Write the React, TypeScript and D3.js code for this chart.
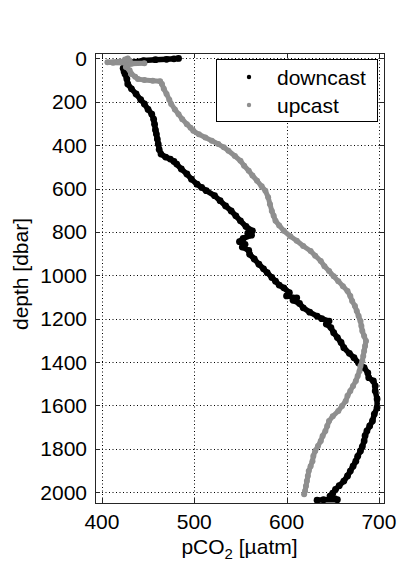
import React, { useRef, useEffect } from 'react';
import * as d3 from 'd3';

// downcast profile (depth in dbar, pCO2 in µatm)
const downDepth = [
  0, 2, 4, 6, 10, 18, 30, 45, 60, 72, 95, 118, 140, 164, 190, 210, 235, 257, 280, 303,
  330, 349, 372, 395, 420, 441, 455, 464, 475, 487, 510, 533, 557, 580, 595, 610, 633, 656,
  680, 703, 726, 749, 775, 795, 806, 815, 830, 845, 857, 870, 885, 903, 925, 949, 970, 988,
  1010, 1027, 1045, 1058, 1080, 1095, 1104, 1115, 1130, 1150, 1170, 1188, 1200, 1211, 1225,
  1241, 1265, 1287, 1310, 1334, 1360, 1380, 1405, 1426, 1450, 1472, 1487, 1510, 1533, 1570,
  1610, 1640, 1672, 1695, 1718, 1740, 1764, 1790, 1810, 1835, 1857, 1880, 1903, 1925, 1949,
  1970, 1987, 2005, 2018, 2030, 2035, 2035, 2037,
];
const downPco2 = [
  483, 478, 470, 458, 445, 432, 426, 423, 424, 425, 427, 428, 432, 437, 442, 446, 450, 454, 456, 457,
  458, 459, 460, 461, 462, 464, 469, 474, 478, 481, 486, 492, 497, 503, 508, 513, 522, 528,
  534, 540, 545, 550, 556, 563, 558, 562, 553, 549, 555, 552, 559, 560, 565, 570, 575, 579,
  584, 588, 592, 597, 603, 600, 611, 607, 614, 618, 625, 633, 638, 646, 643,
  648, 651, 655, 659, 662, 668, 673, 678, 684, 688, 689, 694, 696, 696, 698,
  698, 695, 693, 690, 687, 685, 684, 682, 680, 677, 675, 672, 669, 666, 662,
  657, 653, 650, 647, 652, 655, 640, 633,
];

// upcast profile
const upDepth = [
  0, 5, 10, 18, 20, 22, 25, 30, 40, 55, 72, 85, 95, 100, 103, 105, 118, 140, 164, 190, 210,
  235, 257, 280, 303, 320, 334, 350, 365, 380, 395, 410, 426, 450, 472, 495, 518, 540, 564,
  590, 610, 640, 672, 703, 726, 749, 770, 795, 820, 841, 865, 888, 910, 934, 958, 980, 1005,
  1027, 1050, 1073, 1096, 1119, 1142, 1165, 1188, 1211, 1234, 1257, 1280, 1303, 1326, 1349,
  1372, 1395, 1418, 1441, 1464, 1487, 1510, 1533, 1556, 1580, 1603, 1626, 1650, 1672, 1695,
  1718, 1741, 1764, 1787, 1810, 1833, 1857, 1880, 1903, 1926, 1949, 1972, 1995, 2010,
];
const upPco2 = [
  428, 425, 430, 406, 412, 446, 432, 428, 426, 430, 432, 436, 439, 446, 455, 463, 465, 467, 470, 473, 475,
  479, 483, 487, 492, 496, 499, 505, 512, 519, 526, 532, 537, 544, 550, 554, 559, 563, 568,
  573, 577, 580, 582, 584, 586, 588, 592, 597, 604, 611, 618, 626, 631, 637, 641, 646, 651,
  656, 661, 666, 669, 671, 674, 676, 678, 680, 681, 682, 684, 686, 685, 684,
  683, 682, 680, 679, 677, 675, 672, 669, 666, 664, 660, 656, 650, 646, 644,
  642, 639, 637, 634, 631, 629, 628, 626, 624, 623, 622, 621, 620, 619,
];

const xTicks = [400, 500, 600, 700];
const yTicks = [0, 200, 400, 600, 800, 1000, 1200, 1400, 1600, 1800, 2000];
const seriesNames = ['downcast', 'upcast'];
const seriesColors = ['#000000', '#8f8f8f'];

const FONT = 'Liberation Sans, Arial, Helvetica, sans-serif';
const FS = 21;

const App = () => {
  const svgRef = useRef<SVGSVGElement | null>(null);

  useEffect(() => {
    const svg = d3.select(svgRef.current);
    svg.selectAll('*').remove();

    const left = 95, right = 384, top = 53, bottom = 503;
    const x = d3.scaleLinear().domain([392.5, 705.5]).range([left, right]);
    const y = d3.scaleLinear().domain([-25, 2050]).range([top, bottom]);

    svg.append('rect').attr('width', 416).attr('height', 562).attr('fill', '#fff');

    // dotted grid
    const grid = svg.append('g').attr('stroke', '#000').attr('stroke-width', 1)
      .attr('stroke-dasharray', '1,2.5');
    xTicks.forEach((t) => {
      grid.append('line').attr('x1', Math.round(x(t)) + 0.5).attr('x2', Math.round(x(t)) + 0.5)
        .attr('y1', top).attr('y2', bottom);
    });
    yTicks.forEach((t) => {
      grid.append('line').attr('y1', Math.round(y(t)) + 0.5).attr('y2', Math.round(y(t)) + 0.5)
        .attr('x1', left).attr('x2', right);
    });

    // profiles, downcast first so upcast sits on top
    const series = [
      { d: downDepth, v: downPco2, w: 5.5, r: 3.4 },
      { d: upDepth, v: upPco2, w: 5, r: 3 },
    ];
    series.forEach((s, k) => {
      const pts = s.d.map((d, i) => [s.v[i], d] as [number, number]);
      const line = d3.line<[number, number]>().x((p) => x(p[0])).y((p) => y(p[1]));
      const g = svg.append('g');
      g.append('path').attr('d', line(pts)).attr('fill', 'none')
        .attr('stroke', seriesColors[k]).attr('stroke-width', s.w)
        .attr('stroke-linejoin', 'round').attr('stroke-linecap', 'round');
      g.selectAll('circle').data(pts).join('circle')
        .attr('cx', (p) => x(p[0])).attr('cy', (p) => y(p[1])).attr('r', s.r)
        .attr('fill', seriesColors[k]);
    });

    // box and inward ticks
    const axisColor = '#262626';
    svg.append('rect').attr('x', left + 0.5).attr('y', top + 0.5)
      .attr('width', right - left).attr('height', bottom - top)
      .attr('fill', 'none').attr('stroke', axisColor).attr('stroke-width', 1);
    const tl = 5;
    const ticks = svg.append('g').attr('stroke', axisColor).attr('stroke-width', 1);
    xTicks.forEach((t) => {
      const px = Math.round(x(t)) + 0.5;
      ticks.append('line').attr('x1', px).attr('x2', px).attr('y1', bottom).attr('y2', bottom - tl);
      ticks.append('line').attr('x1', px).attr('x2', px).attr('y1', top).attr('y2', top + tl);
    });
    yTicks.forEach((t) => {
      const py = Math.round(y(t)) + 0.5;
      ticks.append('line').attr('y1', py).attr('y2', py).attr('x1', left).attr('x2', left + tl);
      ticks.append('line').attr('y1', py).attr('y2', py).attr('x1', right).attr('x2', right - tl);
    });

    // tick labels
    svg.append('g').selectAll('text').data(xTicks).join('text')
      .attr('x', (d) => x(d)).attr('y', 529).attr('text-anchor', 'middle')
      .attr('font-family', FONT).attr('font-size', FS).attr('fill', '#000')
      .text((d) => d);
    svg.append('g').selectAll('text').data(yTicks).join('text')
      .attr('x', left - 8).attr('y', (d) => y(d) + 7.5).attr('text-anchor', 'end')
      .attr('font-family', FONT).attr('font-size', FS).attr('fill', '#000')
      .text((d) => d);

    // axis labels
    const xl = svg.append('text').attr('x', (left + right) / 2).attr('y', 554)
      .attr('text-anchor', 'middle').attr('font-family', FONT).attr('font-size', FS).attr('fill', '#000');
    xl.append('tspan').text('pCO');
    xl.append('tspan').attr('font-size', 15).attr('dy', 5).text('2');
    xl.append('tspan').attr('dy', -5).text(' [µatm]');

    svg.append('text').attr('transform', `translate(28,${(top + bottom) / 2 - 4}) rotate(-90)`)
      .attr('text-anchor', 'middle').attr('font-family', FONT).attr('font-size', FS).attr('fill', '#000')
      .text('depth [dbar]');

    // legend
    const lg = svg.append('g');
    lg.append('rect').attr('x', 216.5).attr('y', 59.5).attr('width', 161).attr('height', 62)
      .attr('fill', '#fff').attr('stroke', '#000').attr('stroke-width', 1);
    seriesNames.forEach((name, i) => {
      const cy = 77 + i * 28;
      lg.append('circle').attr('cx', 249).attr('cy', cy).attr('r', 2.2).attr('fill', seriesColors[i]);
      lg.append('text').attr('x', 277).attr('y', cy + 7.5).attr('font-family', FONT)
        .attr('font-size', FS).attr('fill', '#000').text(name);
    });
  }, []);

  return (
    <svg ref={svgRef} width={416} height={562}
      style={{ position: 'absolute', left: 0, top: 0, display: 'block' }} />
  );
};

export default App;
